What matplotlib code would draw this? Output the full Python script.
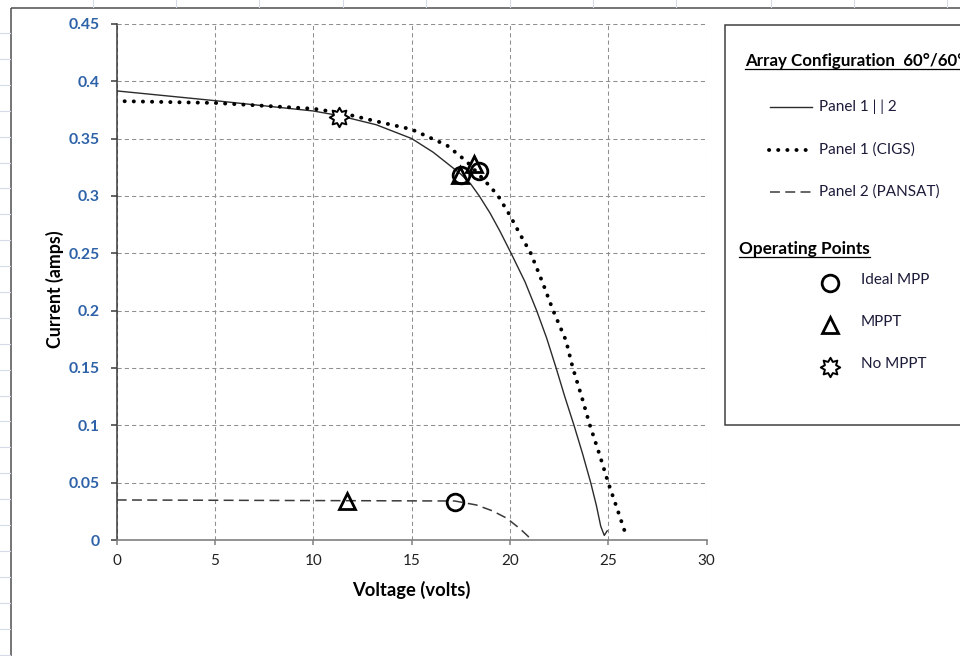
import matplotlib
matplotlib.use("Agg")
import matplotlib.pyplot as plt
from matplotlib.path import Path
from matplotlib.patches import Rectangle

plt.rcParams["font.family"] = ["Lato", "DejaVu Sans"]

# ---- I-V curves (volts, amps) ----
combo_v = [0.0, 5.0, 10.0, 11.3, 13.2, 15.0, 16.1, 17.5, 18.0, 18.44, 18.99, 19.5, 20.06, 20.77, 21.36, 21.87,
           22.35, 22.8, 23.26, 23.7, 24.11, 24.4, 24.62, 24.8, 24.95]
combo_i = [0.3915, 0.383, 0.374, 0.370, 0.362, 0.350, 0.338, 0.319, 0.3105, 0.300, 0.285, 0.269, 0.250, 0.225, 0.200, 0.176,
           0.150, 0.1245, 0.100, 0.075, 0.050, 0.030, 0.012, 0.004, 0.008]

cigs_v = [0.4, 5.0, 10.0, 11.5, 13.2, 15.0, 16.8, 17.8, 19.0, 19.4, 20.0, 20.5, 21.06, 21.65, 22.2, 22.85, 23.2,
          23.65, 24.07, 24.55, 25.0, 25.5, 25.95]
cigs_i = [0.3825, 0.381, 0.376, 0.372, 0.365, 0.358, 0.344, 0.330, 0.308, 0.300, 0.283, 0.267, 0.250, 0.225, 0.200,
          0.174, 0.150, 0.125, 0.100, 0.075, 0.050, 0.025, 0.002]

pansat_v = [0.0, 17.2, 18.3, 19.1, 19.84, 20.5, 20.94, 21.0]
pansat_i = [0.0349, 0.034, 0.0305, 0.0255, 0.019, 0.010, 0.003, 0.0]

# ---- operating points ----
mpp_v = [17.5, 18.43, 17.21]
mpp_i = [0.318, 0.322, 0.0328]
mppt_v = [17.45, 18.17, 11.73]
mppt_i = [0.318, 0.328, 0.0343]
nomppt_v = [11.31]
nomppt_i = [0.369]

x_ticks = [0, 5, 10, 15, 20, 25, 30]
y_ticks = [0, 0.05, 0.1, 0.15, 0.2, 0.25, 0.3, 0.35, 0.4, 0.45]
y_tick_labels = ["0", "0.05", "0.1", "0.15", "0.2", "0.25", "0.3", "0.35", "0.4", "0.45"]

legend_lines = ["Panel 1 | | 2", "Panel 1 (CIGS)", "Panel 2 (PANSAT)"]
legend_points = ["Ideal MPP", "MPPT", "No MPPT"]

W, H = 960, 656
fig = plt.figure(figsize=(W / 100, H / 100), dpi=100)
fig.patch.set_facecolor("white")

x0, x1, ytop, ybot = 116.7, 706.5, 23.8, 540.0
ax = fig.add_axes([x0 / W, 1 - ybot / H, (x1 - x0) / W, (ybot - ytop) / H])

sun = Path.unit_regular_star(8, 0.62)

solid_kw = dict(color="#2b2b2b", lw=1.0)
dotted_kw = dict(color="black", lw=2.8, linestyle=(0, (0.05, 2.3)), dash_capstyle="round")
dashed_kw = dict(color="#3a3a3a", lw=1.1, linestyle=(0, (6.5, 3.5)))
circle_kw = dict(marker="o", ms=12, mfc="none", mec="black", mew=2.0, linestyle="none")
tri_kw = dict(marker="^", ms=11, mfc="none", mec="black", mew=2.0, linestyle="none")
sun_kw = dict(marker=sun, ms=14, mfc="white", mec="black", mew=1.4, linestyle="none")

ax.plot(combo_v, combo_i, **solid_kw, zorder=3)
ax.plot(cigs_v, cigs_i, **dotted_kw, zorder=3)
ax.plot(pansat_v, pansat_i, **dashed_kw, zorder=3)
ax.plot(mpp_v, mpp_i, **circle_kw, zorder=4)
ax.plot(mppt_v, mppt_i, **tri_kw, zorder=4)
ax.plot(nomppt_v, nomppt_i, **sun_kw, zorder=4)

ax.set_xlim(0, 30)
ax.set_ylim(0, 0.45)
ax.set_xticks(x_ticks)
ax.set_xticklabels([str(t) for t in x_ticks])
ax.set_yticks(y_ticks)
ax.set_yticklabels(y_tick_labels)

ax.grid(True, color="#8f8f8f", lw=0.75, linestyle=(0, (4, 3)))
ax.set_axisbelow(True)
for s in ("top", "right"):
    ax.spines[s].set_visible(False)
ax.spines["left"].set_color("#3a3a3a")
ax.spines["left"].set_linewidth(1.1)
ax.spines["bottom"].set_color("#808080")
ax.spines["bottom"].set_linewidth(1.2)

ax.tick_params(axis="y", length=4.3, width=1.1, color="#3a3a3a", pad=8.0,
               labelcolor="#2E62A8", labelsize=11.3)
ax.tick_params(axis="x", length=3.6, width=1.1, color="#808080", pad=6.5,
               labelcolor="#222222", labelsize=11)
for lab in ax.get_yticklabels():
    lab.set_fontweight("bold")

# ---- overlay in pixel coordinates: sheet, chart frame, legend box ----
ov = fig.add_axes([0, 0, 1, 1], zorder=5)
ov.set_xlim(0, W)
ov.set_ylim(H, 0)
ov.axis("off")
ov.patch.set_alpha(0)

sheet = "#d5dbe6"
for cx in [92.7, 175.7, 259.3, 343, 426, 510, 593, 676, 770.7, 854, 947.3]:
    ov.plot([cx, cx], [0, 7], color=sheet, lw=0.8)
ry = 33.0
while ry < H:
    ov.plot([0, 9.5], [ry, ry], color=sheet, lw=0.8)
    ry += 25.9

ov.add_patch(Rectangle((10.5, 8), 1200, 1000, fill=False, ec="#505050", lw=1.1))

fig.text(55 / W, 1 - 289 / H, "Current (amps)", rotation=90, ha="center", va="center",
         fontsize=12.8, fontweight="bold", color="black")
fig.text(411 / W, 1 - 590 / H, "Voltage (volts)", ha="center", va="center",
         fontsize=13.2, fontweight="bold", color="black")

ov.add_patch(Rectangle((725, 25), 400, 400, fc="white", ec="#404040", lw=1.1))

renderer = fig.canvas.get_renderer()


def underlined(x, y, s, size):
    t = ov.text(x, y, s, ha="left", va="center", fontsize=size, fontweight="bold", color="black")
    bb = t.get_window_extent(renderer)
    ov.plot([x, x + bb.width], [y + 8, y + 8], color="black", lw=0.9)


underlined(745, 61, "Array Configuration  60°/60°", 12.2)
underlined(739, 249, "Operating Points", 12.4)

txt_color = "#1c1c3a"
for y, kw, label in zip([107, 150, 192], [solid_kw, dotted_kw, dashed_kw], legend_lines):
    ov.plot([770, 812] if kw is not dotted_kw else [769, 807.5], [y, y], **kw)
    ov.text(819, y, label, ha="left", va="center", fontsize=11, color=txt_color)

for y, kw, label in zip([283, 325, 366.5], [circle_kw, tri_kw, sun_kw], legend_points):
    ov.plot([830], [y], **kw)
    ov.text(861, y - 2.5, label, ha="left", va="center", fontsize=11, color=txt_color)

fig.savefig("out.png", dpi=100, facecolor="white")
